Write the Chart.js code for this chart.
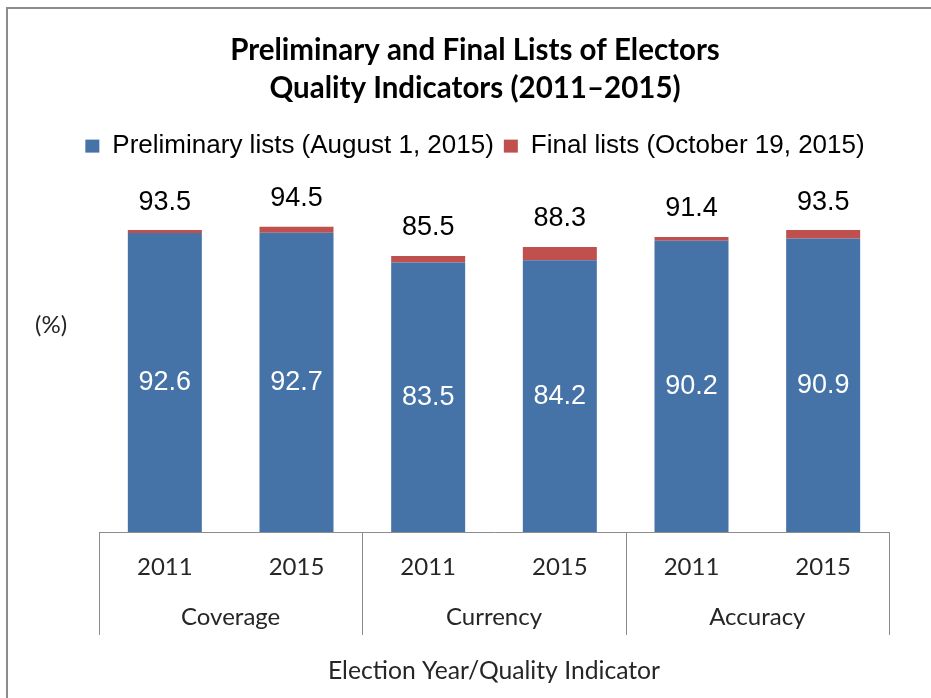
<!DOCTYPE html>
<html>
<head>
<meta charset="utf-8">
<title>Preliminary and Final Lists of Electors</title>
<script src="https://cdn.jsdelivr.net/npm/chart.js@4.4.1/dist/chart.umd.min.js"></script>
<style>
  body { margin: 0; background: #fff; }
  #frame { position: absolute; left: 6px; top: 7px; border-left: 2px solid #8c8c8c; border-top: 2px solid #8c8c8c; }
  canvas { display: block; }
</style>
</head>
<body>
<div id="frame"><canvas id="listsChart" width="923" height="689"></canvas></div>
<script>
const years = ["2011", "2015", "2011", "2015", "2011", "2015"];
const indicators = ["Coverage", "Currency", "Accuracy"];
const preliminary = [92.6, 92.7, 83.5, 84.2, 90.2, 90.9];
const finalLists = [93.5, 94.5, 85.5, 88.3, 91.4, 93.5];

// red part of each bar = what the final list adds over the preliminary one
const gain = finalLists.map((v, i) => +(v - preliminary[i]).toFixed(1));

const BLUE = "#4572A7";
const RED = "#C0504D";
const LINE = "#8c8c8c";
const TEXT = "#262626";

Chart.defaults.font.family = "Lato";
Chart.defaults.color = TEXT;

// white value inside the blue part, final total above the stack
const valueLabels = {
    id: "valueLabels",
    afterDatasetsDraw(chart) {
        const ctx = chart.ctx;
        const lower = chart.getDatasetMeta(0).data;
        const upper = chart.getDatasetMeta(1).data;
        ctx.save();
        ctx.font = '27px "Liberation Sans", Arial, sans-serif';
        ctx.textAlign = "center";
        ctx.textBaseline = "middle";
        lower.forEach((bar, i) => {
            ctx.fillStyle = "#fff";
            ctx.fillText(preliminary[i].toFixed(1), bar.x, (bar.y + bar.base) / 2);
            ctx.fillStyle = "#000";
            ctx.fillText(finalLists[i].toFixed(1), upper[i].x, upper[i].y - 28);
        });
        ctx.restore();
    }
};

// dividers between the indicator groups, running down through both label rows
const groupDividers = {
    id: "groupDividers",
    afterDraw(chart) {
        const x = chart.scales.x;
        const x2 = chart.scales.x2;
        const half = (x2.getPixelForValue(1) - x2.getPixelForValue(0)) / 2;
        const bottom = x2.top + 53;
        const ctx = chart.ctx;
        ctx.save();
        ctx.strokeStyle = LINE;
        ctx.lineWidth = 1;
        ctx.beginPath();
        for (let i = 0; i <= indicators.length; i++) {
            const px = Math.round(x2.getPixelForValue(0) - half + 2 * half * i) + 0.5;
            ctx.moveTo(px, x.top);
            ctx.lineTo(px, bottom);
        }
        ctx.stroke();
        ctx.restore();
    }
};

// empty axis used only as spacing
const spacer = (position, size, weight) => ({
    type: "linear",
    position: position,
    display: true,
    weight: weight || 0,
    grid: { display: false, drawTicks: false },
    border: { display: false },
    ticks: { display: false },
    afterFit: s => {
        if (s.isHorizontal()) s.height = size; else s.width = size;
    }
});

const chart = new Chart(document.getElementById("listsChart"), {
    type: "bar",
    data: {
        labels: years,
        datasets: [
            {
                label: "Preliminary lists (August 1, 2015)",
                data: preliminary,
                backgroundColor: BLUE
            },
            {
                label: "Final lists (October 19, 2015)",
                data: gain,
                backgroundColor: RED
            }
        ]
    },
    options: {
        responsive: false,
        animation: false,
        devicePixelRatio: 1,
        events: [],
        layout: { padding: { left: 11, right: 0, top: 0, bottom: 0 } },
        datasets: {
            bar: { barPercentage: 0.562, categoryPercentage: 1, borderWidth: 0 }
        },
        plugins: {
            title: {
                display: true,
                text: ["Preliminary and Final Lists of Electors", "Quality Indicators (2011\u20132015)"],
                color: "#000",
                font: { family: "Lato", size: 29.5, weight: "bold", lineHeight: 1.29 },
                padding: { top: 22, bottom: 16 }
            },
            legend: {
                display: true,
                position: "top",
                labels: {
                    color: "#000",
                    font: { family: "'Liberation Sans', Arial, sans-serif", size: 26 },
                    boxWidth: 14,
                    boxHeight: 13,
                    padding: 10
                }
            },
            tooltip: { enabled: false }
        },
        scales: {
            x: {
                stacked: true,
                offset: true,
                grid: { display: false, drawTicks: false },
                border: { display: true, color: LINE, width: 1 },
                ticks: { padding: 21, font: { size: 24 }, color: TEXT, maxRotation: 0 },
                afterFit: s => { s.height = 50; }
            },
            x2: {
                type: "category",
                position: "bottom",
                labels: indicators,
                offset: true,
                grid: { display: false, drawTicks: false },
                border: { display: false },
                ticks: { padding: 21, font: { size: 24 }, color: TEXT, maxRotation: 0 },
                title: {
                    display: true,
                    text: "Election Year/Quality Indicator",
                    color: TEXT,
                    font: { size: 24.7 },
                    padding: { top: 25, bottom: 12 }
                },
                afterFit: s => { s.height = 116; }
            },
            xTop: spacer("top", 40),
            y: {
                stacked: true,
                min: 0,
                max: 100,
                grid: { display: false, drawTicks: false },
                border: { display: false },
                afterBuildTicks: s => { s.ticks = [{ value: 64 }]; },
                ticks: {
                    padding: 0,
                    crossAlign: "far",
                    font: { size: 24 },
                    color: TEXT,
                    callback: () => "(%)"
                },
                afterFit: s => { s.width = 64; }
            },
            yPad: spacer("left", 16, 1),
            yRight: spacer("right", 42)
        }
    },
    plugins: [valueLabels, groupDividers]
});
</script>
</body>
</html>
